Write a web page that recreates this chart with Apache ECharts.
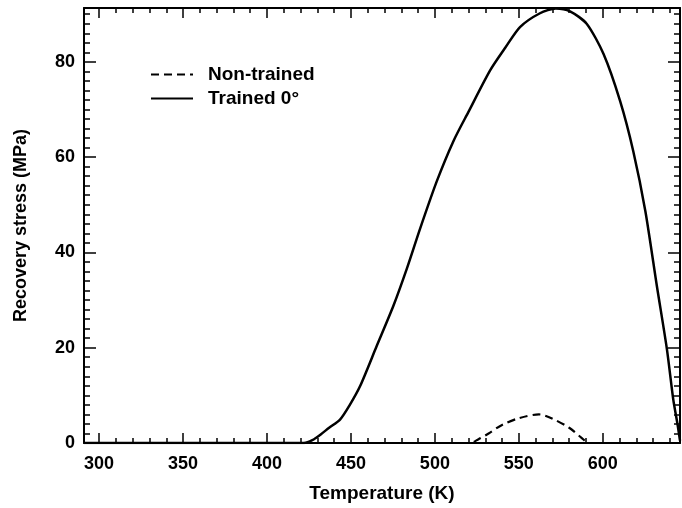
<!DOCTYPE html>
<html>
<head>
<meta charset="utf-8">
<script src="https://cdn.jsdelivr.net/npm/echarts@6/dist/echarts.min.js"></script>
<style>
  html, body { margin: 0; padding: 0; background: #fff; }
  #chart { width: 682px; height: 508px; }
</style>
</head>
<body>
<div id="chart"></div>
<script>
// values
const tempTrained = [291, 422, 427, 432, 437, 443.5, 449, 455.4, 465.4, 475.3, 483.3, 491.2, 501.1, 511.1, 520, 532.9, 542, 550.7, 562.6, 572, 580.5, 590.4, 600.4, 610.3, 618.2, 625.4, 632.2, 638.2, 642, 644.5, 646];
const stressTrained = [0, 0, 0.6, 1.8, 3.2, 4.9, 7.8, 11.9, 20.4, 28.8, 36.6, 45, 54.9, 63.4, 69.5, 78.2, 83, 87.3, 90.2, 91.2, 90.6, 88, 81.7, 71.8, 61.2, 48.6, 33, 19.7, 9.1, 4, 0.5];
const tempNon = [291, 521, 526, 532, 540, 550, 562, 570, 580, 587, 592, 646];
const stressNon = [0, 0, 0.8, 2, 3.8, 5.2, 6, 5.1, 3.2, 1.2, 0, 0];

const xMajor = [300, 350, 400, 450, 500, 550, 600];
const xMinor = [];
for (let t = 300; t <= 640; t += 10) xMinor.push(t);
const yMajor = [0, 20, 40, 60, 80];
const yMinor = [];
for (let s = 0; s <= 90; s += 2) yMinor.push(s);

const xMin = 291, xMax = 646;
const yMin = 0, yMax = 91.3;
const font = 'Liberation Sans';

function xAx(pos, ticks, len, main) {
  return {
    type: 'value', position: pos, min: xMin, max: xMax,
    splitLine: { show: false },
    axisLine: { show: main, onZero: false, lineStyle: { color: '#000', width: 2 } },
    axisTick: { show: true, inside: true, length: len, customValues: ticks, lineStyle: { color: '#000', width: 1.5 } },
    axisLabel: { show: main && pos === 'bottom', customValues: xMajor, margin: 12, color: '#000', fontFamily: font, fontWeight: 'bold', fontSize: 18 },
    name: main && pos === 'bottom' ? 'Temperature (K)' : '',
    nameLocation: 'middle', nameGap: 41,
    nameTextStyle: { color: '#000', fontFamily: font, fontWeight: 'bold', fontSize: 19 }
  };
}
function yAx(pos, ticks, len, main) {
  return {
    type: 'value', position: pos, min: yMin, max: yMax,
    splitLine: { show: false },
    axisLine: { show: main, onZero: false, lineStyle: { color: '#000', width: 2 } },
    axisTick: { show: true, inside: true, length: len, customValues: ticks, lineStyle: { color: '#000', width: 1.5 } },
    axisLabel: { show: main && pos === 'left', customValues: yMajor, margin: 9, color: '#000', fontFamily: font, fontWeight: 'bold', fontSize: 18 },
    name: main && pos === 'left' ? 'Recovery stress (MPa)' : '',
    nameLocation: 'middle', nameGap: 54,
    nameTextStyle: { color: '#000', fontFamily: font, fontWeight: 'bold', fontSize: 18 }
  };
}

const chart = echarts.init(document.getElementById('chart'));
chart.setOption({
  animation: false,
  grid: { left: 84, right: 2, top: 8, bottom: 65 },
  legend: {
    orient: 'vertical', left: 145, top: 60,
    itemWidth: 42, itemHeight: 14, itemGap: 5,
    itemStyle: { opacity: 0 },
    textStyle: { color: '#000', fontFamily: font, fontWeight: 'bold', fontSize: 19, padding: [0, 0, 0, 10] },
    data: ['Non-trained', 'Trained 0°']
  },
  xAxis: [
    xAx('bottom', xMajor, 10, true),
    xAx('bottom', xMinor, 5, false),
    xAx('top', xMajor, 10, true),
    xAx('top', xMinor, 5, false)
  ],
  yAxis: [
    yAx('left', yMajor, 12, true),
    yAx('left', yMinor, 6, false),
    yAx('right', yMajor, 12, true),
    yAx('right', yMinor, 6, false)
  ],
  series: [
    {
      name: 'Non-trained', type: 'line', symbol: 'none', smooth: 0.3,
      data: tempNon.map((t, i) => [t, stressNon[i]]),
      lineStyle: { color: '#000', width: 2.2, type: [8, 5] },
      itemStyle: { color: '#000' }
    },
    {
      name: 'Trained 0°', type: 'line', symbol: 'none', smooth: 0.25,
      data: tempTrained.map((t, i) => [t, stressTrained[i]]),
      lineStyle: { color: '#000', width: 2.5 },
      itemStyle: { color: '#000' }
    }
  ]
});
</script>
</body>
</html>
